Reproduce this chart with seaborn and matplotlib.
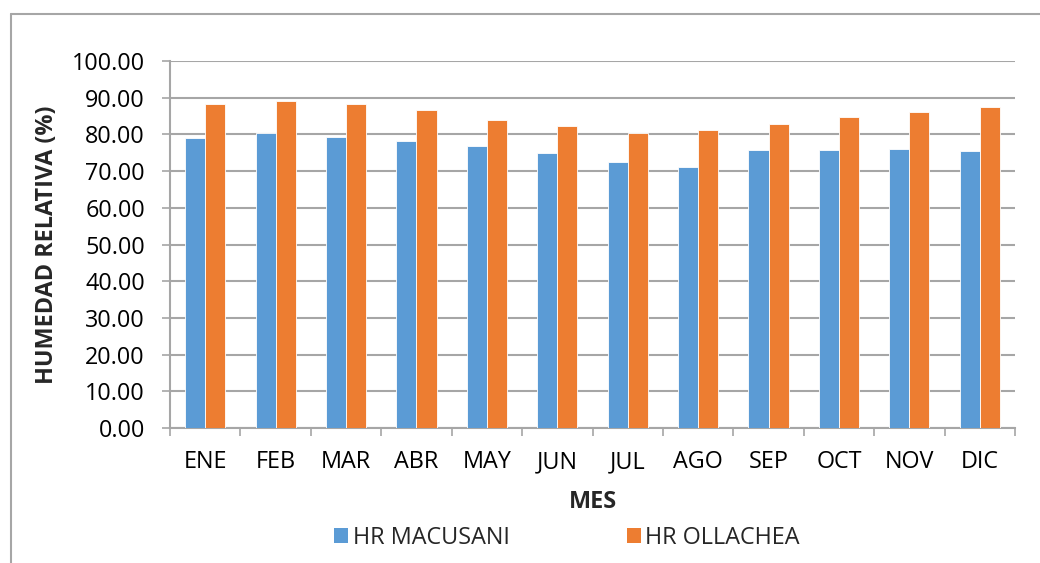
import matplotlib
matplotlib.use("Agg")
import matplotlib.pyplot as plt
import pandas as pd
import seaborn as sns
from matplotlib.lines import Line2D
from matplotlib.patches import Patch
from matplotlib.ticker import FormatStrFormatter, MultipleLocator, FixedLocator

# monthly relative humidity (%)
meses = ["ENE", "FEB", "MAR", "ABR", "MAY", "JUN",
         "JUL", "AGO", "SEP", "OCT", "NOV", "DIC"]
hr_macusani = [79.1, 80.5, 79.2, 78.1, 76.8, 74.8,
               72.5, 71.2, 75.7, 75.8, 75.9, 75.6]
hr_ollachea = [88.2, 89.0, 88.3, 86.7, 84.0, 82.4,
               80.5, 81.1, 82.8, 84.7, 86.2, 87.4]
series = ["HR MACUSANI", "HR OLLACHEA"]
colores = ["#5B9BD5", "#ED7D31"]

df = pd.DataFrame({
    "mes": meses * 2,
    "hr": hr_macusani + hr_ollachea,
    "serie": [series[0]] * len(meses) + [series[1]] * len(meses),
})

sns.set_theme(style="white")
plt.rcParams["font.family"] = ["Open Sans", "DejaVu Sans"]
FS = 16.8
GRID = "#A6A6A6"

fig = plt.figure(figsize=(10.4, 5.63), dpi=100)
ax = fig.add_axes([170 / 1040, 1 - 428 / 563, 845 / 1040, 367 / 563])

sns.barplot(
    ax=ax, data=df, x="mes", y="hr", hue="serie",
    palette=colores, width=0.57, gap=0, saturation=1,
    edgecolor="white", linewidth=0.6, legend=False, zorder=3,
)

ax.set_xlim(-0.5, len(meses) - 0.5)
ax.set_ylim(0, 100)
ax.yaxis.set_major_locator(MultipleLocator(10))
ax.yaxis.set_major_formatter(FormatStrFormatter("%.2f"))
ax.yaxis.grid(True, color=GRID, linewidth=1.5, zorder=0)
ax.xaxis.grid(False)
ax.set_axisbelow(True)

for side in ["top", "right"]:
    ax.spines[side].set_visible(False)
for side in ["left", "bottom"]:
    ax.spines[side].set_color(GRID)
    ax.spines[side].set_linewidth(1.5)

ax.tick_params(axis="y", which="major", direction="out", length=6, width=1.2,
               color=GRID, pad=12, labelsize=FS, labelcolor="black", left=True)
ax.tick_params(axis="x", which="major", length=0, pad=16, labelsize=FS,
               labelcolor="black")
ax.xaxis.set_minor_locator(FixedLocator([i - 0.5 for i in range(len(meses) + 1)]))
ax.tick_params(axis="x", which="minor", direction="out", length=6, width=1.2,
               color=GRID, bottom=True)

ax.set_xlabel("MES", fontsize=FS, fontweight="bold", va="center")
ax.xaxis.set_label_coords(0.5, -0.2016)
ax.set_ylabel("HUMEDAD RELATIVA (%)", fontsize=FS, fontweight="bold", va="center")
ax.yaxis.set_label_coords(-0.1456, 0.5)

handles = [Patch(facecolor=c, edgecolor="none") for c in colores]
fig.legend(handles, series, loc="center", bbox_to_anchor=(567 / 1040, 1 - 538 / 563),
           ncol=2, frameon=False, fontsize=FS, handlelength=0.6, handleheight=0.6,
           handletextpad=0.2, columnspacing=5.0, borderpad=0)

# outer chart frame (top and left edges visible)
fig.add_artist(Line2D([11 / 1040, 1], [1 - 14 / 563] * 2, color=GRID,
                      linewidth=1.5, transform=fig.transFigure))
fig.add_artist(Line2D([11 / 1040] * 2, [0, 1 - 14 / 563], color=GRID,
                      linewidth=1.5, transform=fig.transFigure))

fig.savefig("out.png", dpi=100, facecolor="white")
